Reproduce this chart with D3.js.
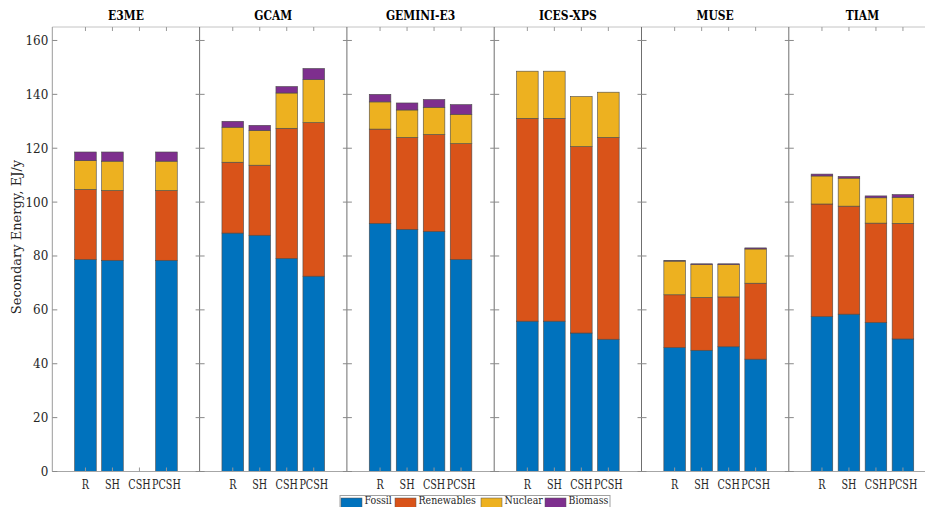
<!DOCTYPE html>
<html><head><meta charset="utf-8">
<script src="https://cdn.jsdelivr.net/npm/d3@7"></script>
<style>
html,body{margin:0;padding:0;background:#fff;}
svg{display:block;font-family:"DejaVu Serif",serif;}
</style></head>
<body><svg id="c" width="925" height="507"></svg>
<script>
const models = ["E3ME","GCAM","GEMINI-E3","ICES-XPS","MUSE","TIAM"];
const scenarios = ["R","SH","CSH","PCSH"];
const sources = ["Fossil","Renewables","Nuclear","Biomass"];
const colors = ["#0072BD","#D95319","#EDB120","#7E2F8E"];
const yTicks = [0,20,40,60,80,100,120,140,160];
const yMax = 165;
// segment values per model, per scenario (R, SH, CSH, PCSH), EJ/y
const fossil = {
  "E3ME":[78.7,78.4,0,78.4], "GCAM":[88.5,87.7,79.1,72.5], "GEMINI-E3":[92.1,89.9,89.1,78.7],
  "ICES-XPS":[55.8,55.8,51.4,49.1], "MUSE":[46.0,45.0,46.3,41.7], "TIAM":[57.5,58.4,55.3,49.2]};
const renewables = {
  "E3ME":[26.0,25.9,0,25.9], "GCAM":[26.3,26.0,48.3,57.0], "GEMINI-E3":[35.0,34.1,36.0,43.0],
  "ICES-XPS":[75.3,75.3,69.2,74.9], "MUSE":[19.6,19.6,18.5,28.2], "TIAM":[41.8,40.1,36.9,42.9]};
const nuclear = {
  "E3ME":[10.7,10.9,0,10.9], "GCAM":[13.0,12.9,13.1,16.0], "GEMINI-E3":[10.1,10.2,10.1,10.9],
  "ICES-XPS":[17.5,17.5,18.6,16.8], "MUSE":[12.5,12.2,12.0,12.7], "TIAM":[10.4,10.4,9.4,9.7]};
const biomass = {
  "E3ME":[3.2,3.4,0,3.4], "GCAM":[2.2,1.9,2.4,4.1], "GEMINI-E3":[2.8,2.6,2.9,3.6],
  "ICES-XPS":[0,0,0,0], "MUSE":[0.2,0.3,0.3,0.4], "TIAM":[0.7,0.6,0.7,1.0]};
const yLabel = "Secondary Energy, EJ/y";

(function(){
const svg = d3.select("#c");
const left = 52.3, pw = 147.3, yTop = 27, yBot = 471.5;
const xPanel = d3.scaleBand().domain(models).range([left, left + pw*models.length]);
const xCat = d3.scaleBand().domain(scenarios).range([0, pw]).paddingInner(0.2).paddingOuter(0.828).align(0.5);
const y = d3.scaleLinear().domain([0, yMax]).range([yBot, yTop]);

function txt(sel, x, yy, sx, str, size, anchor, weight, fill){
  return sel.append("text").attr("transform", `translate(${x},${yy}) scale(${sx},1)`)
    .attr("text-anchor", anchor).attr("font-size", size).attr("font-weight", weight || "normal")
    .attr("fill", fill || "#262626").text(str);
}

const rows = [];
models.forEach(m => scenarios.forEach((s,i) => {
  rows.push({model:m, scen:s, Fossil:fossil[m][i], Renewables:renewables[m][i], Nuclear:nuclear[m][i], Biomass:biomass[m][i]});
}));
const stack = d3.stack().keys(sources)(rows);

const gBars = svg.append("g");
stack.forEach((layer, li) => {
  gBars.selectAll(null).data(layer.filter(d => d[1]-d[0] > 0)).enter().append("rect")
    .attr("x", d => xPanel(d.data.model) + xCat(d.data.scen))
    .attr("width", xCat.bandwidth())
    .attr("y", d => y(d[1]))
    .attr("height", d => y(d[0]) - y(d[1]))
    .attr("fill", colors[li])
    .attr("stroke", "#4a4a4a").attr("stroke-width", 0.6);
});

const right = 925;
svg.append("line").attr("x1", left).attr("x2", right).attr("y1", yTop).attr("y2", yTop)
  .attr("stroke", "#c4c4c4").attr("stroke-width", 1);
svg.append("line").attr("x1", left).attr("x2", right).attr("y1", yBot).attr("y2", yBot)
  .attr("stroke", "#a6a6a6").attr("stroke-width", 1);

models.forEach((m, mi) => {
  const x0 = xPanel(m);
  const g = svg.append("g").attr("transform", `translate(${x0},0)`);
  g.append("line").attr("x1",0).attr("x2",0).attr("y1",yTop).attr("y2",yBot)
    .attr("stroke", mi === 0 ? "#9a9a9a" : "#6f6f6f").attr("stroke-width", 1);
  g.selectAll(null).data(yTicks).enter().append("line")
    .attr("x1", mi === 0 ? 0 : -4).attr("x2", 5)
    .attr("y1", d => y(d)).attr("y2", d => y(d))
    .attr("stroke", "#8a8a8a").attr("stroke-width", 1);
  scenarios.forEach(s => {
    const cx = xCat(s) + xCat.bandwidth()/2;
    g.append("line").attr("x1",cx).attr("x2",cx).attr("y1",yTop).attr("y2",yTop+4)
      .attr("stroke","#9a9a9a");
    g.append("line").attr("x1",cx).attr("x2",cx).attr("y1",yBot).attr("y2",yBot-4)
      .attr("stroke","#9a9a9a");
    txt(g, cx, 489, 0.8, s, 12, "middle");
  });
  txt(g, pw/2, 20, 0.86, m, 12.5, "middle", "bold", "#000");
});

yTicks.forEach(d => txt(svg, left - 4, y(d) + 4.5, 0.92, d, 13, "end"));

svg.append("text").attr("transform", `translate(21,237) rotate(-90)`)
  .attr("text-anchor","middle").attr("font-size",13).attr("fill","#262626").text(yLabel);

const lg = svg.append("g");
lg.append("rect").attr("x",340).attr("y",495.5).attr("width",270).attr("height",20)
  .attr("fill","#fff").attr("stroke","#a0a0a0");
const legX = [341, 395, 481, 545];
sources.forEach((s,i) => {
  lg.append("rect").attr("x",legX[i]).attr("y",498).attr("width",21).attr("height",12)
    .attr("fill",colors[i]).attr("stroke","#555").attr("stroke-width",0.5);
  txt(lg, legX[i]+23.5, 504.4, 0.82, s, 11.5, "start");
});
})();
</script></body></html>
